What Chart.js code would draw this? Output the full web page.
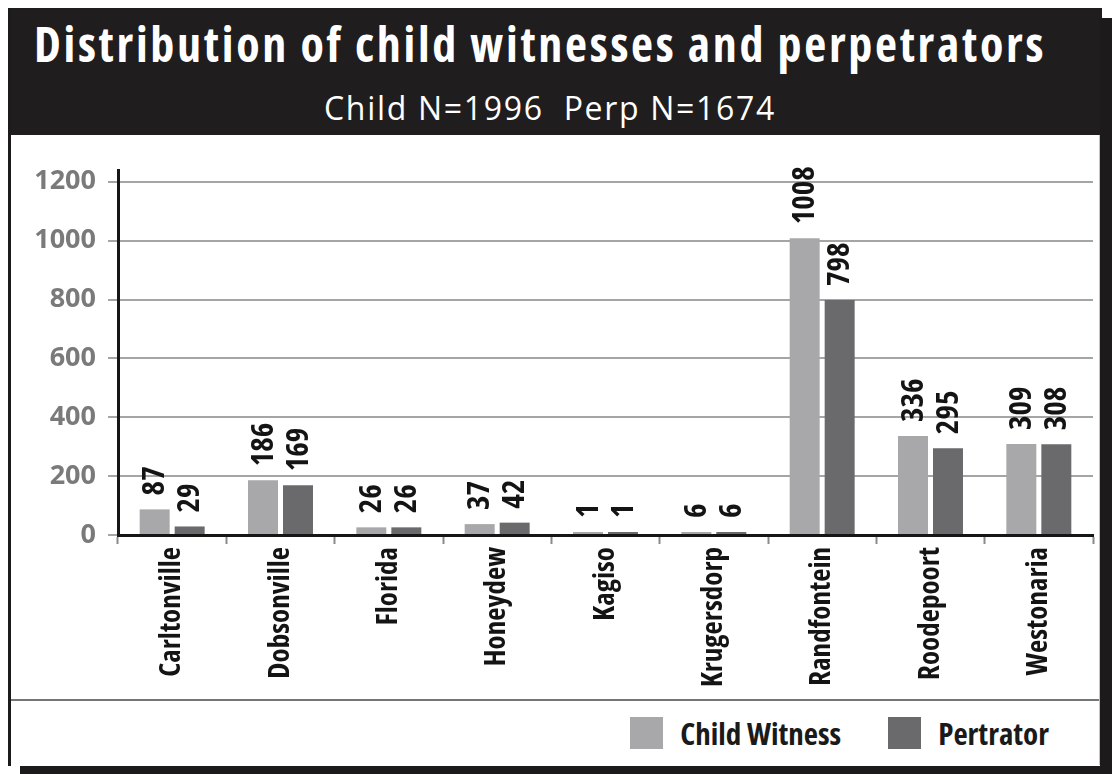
<!DOCTYPE html>
<html>
<head>
<meta charset="utf-8">
<title>Distribution of child witnesses and perpetrators</title>
<script src="https://cdn.jsdelivr.net/npm/chart.js@4.4.1/dist/chart.umd.min.js"></script>
<style>
  html, body { margin: 0; padding: 0; background: #fff; }
  body { width: 1112px; height: 774px; position: relative; overflow: hidden; font-family: "Open Sans", sans-serif; }
  .frame-left { position: absolute; left: 8px; top: 8px; width: 3px; height: 758px; background: #1c1a1b; }
  .frame-right { position: absolute; left: 1099px; top: 135px; width: 1px; height: 630px; background: #c4c4c4; }
  .shadow-right { position: absolute; left: 1100px; top: 18px; width: 12px; height: 756px; background: #1c1a1b; }
  .shadow-bottom { position: absolute; left: 20px; top: 766px; width: 1092px; height: 8px; background: #1c1a1b; }
  .header { position: absolute; left: 8px; top: 8px; width: 1094px; height: 127px; background: #1f1d1e; color: #fff; }
  .header .line { position: absolute; left: 0; width: 100%; text-align: center; white-space: pre; }
  .header .line span { display: inline-block; }
  .title { top: 11px; height: 50px; line-height: 50px; font-size: 48px; font-weight: bold; font-stretch: 75%; padding-right: 30px; box-sizing: border-box; }
  .subtitle { top: 80px; height: 40px; line-height: 40px; font-size: 32px; font-weight: normal; padding-right: 10px; box-sizing: border-box; }
  .chart-box { position: absolute; left: 11px; top: 135px; width: 1089px; height: 564px; }
  .legend {
    position: absolute; left: 11px; top: 699px; width: 1088px; height: 66px;
    border-top: 2px solid #767676; box-sizing: border-box;
    display: flex; justify-content: flex-end; align-items: center; padding-right: 50px; gap: 47px;
    font-weight: bold; font-stretch: 75%; font-size: 31px; color: #1a1a1a;
  }
  .legend .item { display: flex; align-items: center; gap: 17px; }
  .legend .swatch { width: 33px; height: 32px; }
</style>
</head>
<body>
<div class="header">
  <div class="line title"><span id="title">Distribution of child witnesses and perpetrators</span></div>
  <div class="line subtitle"><span id="subtitle">Child N=1996  Perp N=1674</span></div>
</div>
<div class="frame-left"></div>
<div class="frame-right"></div>
<div class="shadow-right"></div>
<div class="shadow-bottom"></div>
<div class="chart-box"><canvas id="chart"></canvas></div>
<div class="legend" id="legend"></div>
<script>
const places = ['Carltonville', 'Dobsonville', 'Florida', 'Honeydew', 'Kagiso',
                'Krugersdorp', 'Randfontein', 'Roodepoort', 'Westonaria'];
const childWitness = [87, 186, 26, 37, 1, 6, 1008, 336, 309];
const perpetrator = [29, 169, 26, 42, 1, 6, 798, 295, 308];
const yTicks = [0, 200, 400, 600, 800, 1000, 1200];

const FAMILY = '"Open Sans", sans-serif';

// spread the header lines out to the width of the printed heading
function spreadTo(id, width) {
  const el = document.getElementById(id);
  const w = el.getBoundingClientRect().width;
  el.style.letterSpacing = ((width - w) / el.textContent.length).toFixed(2) + 'px';
}
spreadTo('title', 1012);
spreadTo('subtitle', 452);

// numbers written sideways above every bar
const barValueLabels = {
  id: 'barValueLabels',
  afterDatasetsDraw(chart) {
    const ctx = chart.ctx;
    ctx.save();
    ctx.font = 'bold condensed 31px ' + FAMILY;
    ctx.fillStyle = '#141414';
    ctx.textAlign = 'left';
    ctx.textBaseline = 'middle';
    chart.data.datasets.forEach((ds, i) => {
      chart.getDatasetMeta(i).data.forEach((bar, j) => {
        ctx.save();
        ctx.translate(bar.x + 1, bar.y - 14);
        ctx.rotate(-Math.PI / 2);
        ctx.fillText(String(ds.data[j]), 0, 0);
        ctx.restore();
      });
    });
    ctx.restore();
  }
};

// legend sits under the plot in its own strip
const htmlLegend = {
  id: 'htmlLegend',
  afterUpdate(chart) {
    const box = document.getElementById('legend');
    box.innerHTML = '';
    const items = Chart.defaults.plugins.legend.labels.generateLabels(chart);
    items.forEach(item => {
      const el = document.createElement('div');
      el.className = 'item';
      const sw = document.createElement('span');
      sw.className = 'swatch';
      sw.style.background = item.fillStyle;
      const tx = document.createElement('span');
      tx.textContent = item.text;
      el.appendChild(sw);
      el.appendChild(tx);
      box.appendChild(el);
    });
  }
};

new Chart(document.getElementById('chart'), {
  type: 'bar',
  data: {
    labels: places,
    datasets: [
      {
        label: 'Child Witness',
        data: childWitness,
        backgroundColor: '#a8a8aa',
        borderWidth: 0,
        minBarLength: 3,
        categoryPercentage: 0.646,
        barPercentage: 0.857
      },
      {
        label: 'Pertrator',
        data: perpetrator,
        backgroundColor: '#6a6a6c',
        borderWidth: 0,
        minBarLength: 3,
        categoryPercentage: 0.646,
        barPercentage: 0.857
      }
    ]
  },
  options: {
    responsive: true,
    maintainAspectRatio: false,
    animation: false,
    layout: { padding: { left: 0, right: 7, top: 35, bottom: 0 } },
    plugins: {
      legend: { display: false },
      tooltip: { enabled: false }
    },
    scales: {
      x: {
        grid: {
          display: true, drawOnChartArea: false, drawTicks: true,
          tickLength: 9, tickColor: '#8a8a8a', tickWidth: 2, offset: true
        },
        border: { display: true, color: '#161616', width: 3 },
        ticks: {
          color: '#141414',
          font: { family: FAMILY, size: 29, weight: 'bold condensed' },
          minRotation: 90, maxRotation: 90, padding: 3, autoSkip: false
        },
        afterFit(scale) { scale.height = 164; }
      },
      y: {
        min: 0,
        max: 1240,
        afterBuildTicks(scale) { scale.ticks = yTicks.map(v => ({ value: v })); },
        grid: { color: '#a5a5a5', lineWidth: 2, tickLength: 10, tickColor: '#a5a5a5' },
        border: { display: true, color: '#161616', width: 3 },
        ticks: {
          color: '#7a7a7a',
          font: { family: FAMILY, size: 27, weight: 'bold' },
          padding: 12,
          callback: v => String(v)
        },
        afterFit(scale) { scale.width = 107; }
      }
    }
  },
  plugins: [barValueLabels, htmlLegend]
});
</script>
</body>
</html>
